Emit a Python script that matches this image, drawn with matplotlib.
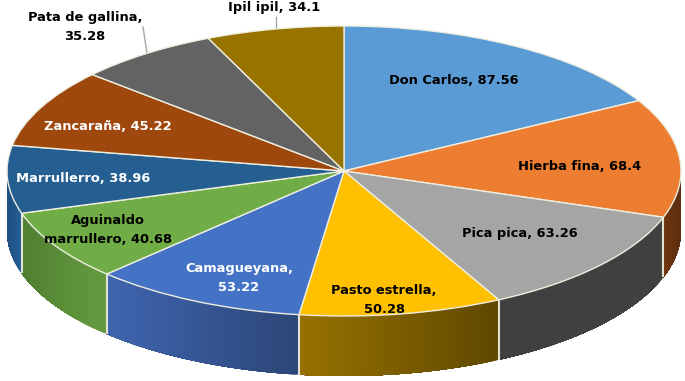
import numpy as np
import matplotlib
matplotlib.use('Agg')
import matplotlib.pyplot as plt
from matplotlib.colors import to_rgb

names = ['Don Carlos', 'Hierba fina', 'Pica pica', 'Pasto estrella', 'Camagueyana',
         'Aguinaldo marrullero', 'Marrullerro', 'Zancaraña', 'Pata de gallina', 'Ipil ipil']
values = [87.56, 68.4, 63.26, 50.28, 53.22, 40.68, 38.96, 45.22, 35.28, 34.1]
top_colors = ['#5b9bd5', '#ed7d31', '#a5a5a5', '#ffc000', '#4472c4',
              '#70ad47', '#255e91', '#9e480e', '#636363', '#997300']
# side wall colours, left end and right end of each slice
wall_left = ['#5b9bd5', '#70360f', '#404040', '#977200', '#3f65b0',
             '#4f7f30', '#1f4f80', '#9e480e', '#636363', '#997300']
wall_right = ['#5b9bd5', '#5c2d0f', '#404040', '#5f4800', '#2c4677',
              '#659c40', '#25609a', '#9e480e', '#636363', '#997300']

label_text = ['Don Carlos, 87.56', 'Hierba fina, 68.4', 'Pica pica, 63.26',
              'Pasto estrella,\n50.28', 'Camagueyana,\n53.22', 'Aguinaldo\nmarrullero, 40.68',
              'Marrullerro, 38.96', 'Zancaraña, 45.22', 'Pata de gallina,\n35.28', 'Ipil ipil, 34.1']
label_color = ['black', 'black', 'black', 'black', 'white', 'black', 'white', 'white', 'black', 'black']
# label centres in pixels of the image
label_pos = [(454, 81), (580, 167), (520, 234), (384, 300), (239, 278), (108, 230),
             (83, 178), (108, 127), (85, 27), (274, 7)]

W, H = 685, 381
cx, cy, rx, ry, depth = 344, 171, 337, 145, 60

fig = plt.figure(figsize=(W / 100, H / 100), dpi=100)
ax = fig.add_axes([0, 0, 1, 1])

ax.pie(values, colors=top_colors, startangle=90, counterclock=False,
       wedgeprops={'edgecolor': '#eeeee0', 'linewidth': 1.0, 'zorder': 5})

# pie forces equal aspect, squash it to the ellipse
ax.set_aspect('auto')
ax.set_xlim(-cx / rx, (W - cx) / rx)
ax.set_ylim(-(H - cy) / ry, cy / ry)
d = depth / ry

# side wall, only the front half of the rim shows
edges = np.cumsum([0] + values) / sum(values) * 360
for i in range(len(values)):
    a0, a1 = max(edges[i], 90), min(edges[i + 1], 270)
    if a1 <= a0:
        continue
    a = np.radians(np.linspace(a0, a1, 90))
    x, y = np.sin(a), np.cos(a)
    c0, c1 = np.array(to_rgb(wall_left[i])), np.array(to_rgb(wall_right[i]))
    lo, hi = x.min(), x.max()
    # each strip runs to the end of the slice so no seams show between strips
    for j in range(len(a) - 1):
        t = ((x[j] + x[j + 1]) / 2 - lo) / (hi - lo)
        col = c0 + (c1 - c0) * t
        ax.fill(np.r_[x[j:], x[j:][::-1]], np.r_[y[j:], y[j:][::-1] - d],
                color=col, lw=0, zorder=2)

# divider lines on the wall, drawn after all the strips
for e in edges:
    if 90 < e < 270:
        r = np.radians(e)
        ax.plot([np.sin(r)] * 2, [np.cos(r), np.cos(r) - d],
                color='#e2e2d4', lw=1.5, zorder=4, solid_capstyle='butt')

# leader lines
px = lambda p, q: ((p - cx) / rx, (cy - q) / ry)
for (p0, p1) in [((143, 27), (147, 53)), ((276, 17), (276, 30))]:
    a, b = px(*p0), px(*p1)
    ax.plot([a[0], b[0]], [a[1], b[1]], color='#a6a6a6', lw=1, zorder=1)

for txt, col, (tx, ty) in zip(label_text, label_color, label_pos):
    fig.text(tx / W, 1 - ty / H, txt, color=col, fontsize=9.4, fontweight='bold',
             ha='center', va='center', family='DejaVu Sans', linespacing=1.65, zorder=10)

fig.savefig('out.png', dpi=100)
